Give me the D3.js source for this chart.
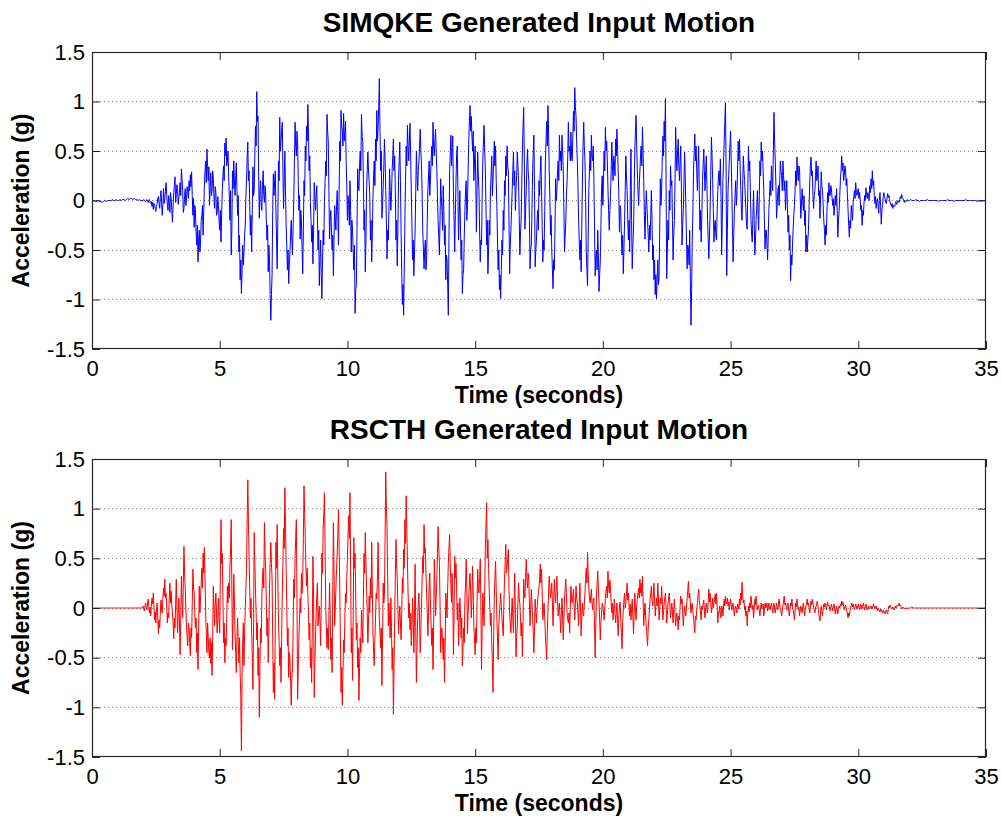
<!DOCTYPE html>
<html><head><meta charset="utf-8">
<script src="https://cdn.jsdelivr.net/npm/d3@7"></script>
<style>
body{margin:0;background:#fff;}
svg{display:block;font-family:"Liberation Sans",Arial,Helvetica,sans-serif;}
</style></head><body>
<svg id="chart" width="1001" height="818"></svg>
<script>
// ---------------- data ----------------
// Each row holds the samples of one second (row k covers k .. k+1 s).
const xTicks = [0, 5, 10, 15, 20, 25, 30, 35];
const yTicks = [-1.5, -1, -0.5, 0, 0.5, 1, 1.5];
const xLabel = "Time (seconds)";
const yLabel = "Acceleration (g)";
const simqkeTitle = "SIMQKE Generated Input Motion";
const rscthTitle = "RSCTH Generated Input Motion";

// SIMQKE acceleration (g)
const simqkeAcc = [
 [0.00,0.00,0.00,-0.01,0.00,0.00,-0.01,-0.01,-0.02,-0.01,0.00,-0.01,0.00,0.00,0.00,0.00,0.01,0.00,0.00,0.01],
 [0.00,0.00,0.01,0.00,0.01,0.01,0.00,0.01,0.02,0.01,0.02,0.02,0.01,0.02,0.01,0.01,0.00,0.01,0.00,0.00],
 [0.00,0.01,0.00,-0.01,-0.01,0.00,0.01,-0.01,-0.02,0.00,0.01,-0.02,-0.03,-0.01,-0.06,-0.02,-0.09,-0.03,-0.05,-0.08,-0.11,-0.06,-0.03,0.02,0.04,-0.03,-0.08,0.03,0.10,-0.02,-0.15,-0.04,0.12,-0.03,0.02,0.09,0.18,0.06,-0.04,-0.10],
 [0.05,-0.02,-0.12,0.08,0.02,-0.10,-0.22,-0.05,0.08,0.15,0.24,-0.02,0.06,0.16,0.12,-0.04,0.03,0.08,0.18,0.05,0.32,0.22,0.10,-0.12,-0.08,0.05,0.12,-0.05,0.02,0.14,0.08,0.02,0.20,0.10,0.26,0.14,0.29,0.05,-0.15,0.02],
 [-0.27,-0.05,-0.10,-0.32,-0.45,-0.25,-0.62,-0.40,-0.30,-0.52,-0.42,-0.20,-0.15,-0.05,-0.35,-0.10,0.15,0.30,0.40,0.18,0.52,0.35,0.20,0.34,-0.05,0.12,0.28,0.05,0.10,0.30,0.22,0.02,-0.08,0.14,0.08,-0.15,-0.12,0.04,-0.05,-0.20],
 [-0.30,-0.10,-0.42,-0.15,0.10,0.25,0.35,0.20,0.58,0.45,0.63,0.35,0.40,0.50,0.25,0.05,-0.20,0.10,-0.55,-0.30,0.30,0.12,0.40,0.20,0.05,0.25,0.38,0.10,-0.15,0.05,-0.52,-0.35,-0.80,-0.60,-0.94,-0.70,-0.45,-0.65,-0.52,-0.35],
 [-0.25,0.05,0.20,0.45,0.59,0.20,0.30,-0.05,-0.35,-0.15,-0.52,-0.10,0.34,0.05,0.10,0.45,0.75,0.55,1.10,0.80,0.85,0.25,-0.18,0.10,0.20,-0.05,-0.10,0.15,0.30,0.05,-0.02,0.15,0.05,-0.20,-0.40,-0.25,-0.72,-0.45,-0.60,-0.95],
 [-1.21,-0.95,-0.75,-0.10,0.27,0.05,0.20,0.30,-0.10,-0.40,-0.69,-0.20,0.40,0.20,0.84,0.50,0.60,0.70,0.79,0.30,-0.08,0.20,0.50,0.10,-0.25,-0.45,-0.70,-0.50,-0.84,-0.65,-0.53,-0.35,-0.20,-0.40,-0.55,-0.25,0.02,0.40,0.79,0.55],
 [0.45,0.70,0.59,0.20,-0.10,0.05,-0.39,-0.10,-0.20,-0.50,-0.74,-0.30,0.20,0.05,0.55,0.40,0.75,0.60,0.97,0.70,0.30,0.45,-0.02,-0.20,-0.42,-0.25,-0.64,-0.30,0.18,0.05,-0.10,0.05,0.15,-0.15,-0.50,-0.30,-0.86,-0.60,-0.40,-0.75],
 [-0.99,-0.60,-0.30,-0.45,-0.02,0.20,0.40,0.25,0.87,0.70,0.60,0.10,-0.39,-0.20,-0.10,-0.30,-0.50,-0.35,-0.76,-0.40,-0.05,-0.20,-0.30,-0.05,0.10,-0.15,-0.45,0.10,0.60,0.40,0.91,0.75,0.70,0.55,0.88,0.60,0.69,0.80,0.40,0.15],
 [-0.20,0.05,-0.05,-0.25,0.20,-0.10,-0.52,-0.20,-0.30,-0.50,-0.70,-0.45,-1.14,-0.90,-0.85,-0.30,0.32,0.15,0.10,0.35,0.50,0.30,0.87,0.65,0.60,0.20,-0.30,-0.10,-0.72,-0.40,0.10,0.30,0.49,0.30,0.20,0.05,-0.40,-0.20,-0.62,-0.35],
 [0.05,0.25,0.40,0.15,0.62,0.40,0.91,0.60,0.75,0.95,1.23,0.70,0.30,0.50,-0.18,-0.05,0.15,0.35,0.62,0.40,0.10,-0.20,-0.59,-0.30,-0.40,-0.10,0.32,0.10,-0.10,0.05,0.30,0.45,0.62,0.30,0.45,0.10,-0.40,-0.20,-0.66,-0.30],
 [0.20,0.40,0.59,0.20,-0.30,-0.70,-1.05,-0.85,-1.16,-0.70,-0.20,0.20,0.55,0.35,0.76,0.55,0.40,0.60,0.78,0.45,0.10,-0.25,-0.60,-0.40,-0.76,-0.55,-0.30,0.10,0.50,0.25,0.10,0.30,0.40,0.55,0.72,0.50,0.35,0.05,-0.30,-0.50],
 [-0.69,-0.50,-0.40,-0.70,-0.60,-0.20,0.10,0.25,0.40,0.05,0.20,0.40,0.55,0.35,0.79,0.55,0.45,0.60,0.72,0.50,0.30,0.05,-0.20,-0.35,-0.55,-0.20,0.22,0.05,-0.10,-0.30,0.15,-0.10,-0.45,-0.25,-0.80,-0.55,-0.60,-0.85,-1.16,-0.40],
 [0.30,0.45,0.66,0.35,0.50,0.65,0.10,-0.20,-0.52,-0.15,0.20,0.45,0.55,0.10,-0.40,-0.15,0.10,-0.25,-0.60,-0.40,-0.94,-0.75,-0.70,-0.35,-0.10,0.10,0.20,-0.20,-0.05,0.30,0.60,0.80,0.96,0.70,0.85,0.65,0.50,0.70,0.20,0.40],
 [0.55,0.20,-0.32,0.10,0.49,0.25,0.10,-0.30,-0.62,-0.40,-0.45,0.05,0.40,0.60,0.76,0.50,0.30,-0.10,-0.45,-0.20,-0.74,-0.50,-0.20,-0.35,0.10,0.25,0.45,0.05,0.20,0.40,0.60,0.35,0.55,0.20,-0.05,-0.40,-0.70,-0.50,-0.90,-0.75],
 [-0.99,-0.70,-0.40,-0.55,-0.10,-0.30,0.20,0.05,0.45,0.25,0.55,0.35,0.30,-0.20,-0.74,-0.45,-0.30,-0.10,0.10,0.30,0.49,0.15,0.30,-0.10,0.10,0.25,0.49,0.35,0.20,-0.15,-0.55,-0.35,-0.20,0.15,0.50,0.75,0.94,0.40,-0.29,-0.10],
 [0.10,0.35,0.52,0.30,0.20,-0.20,-0.69,-0.50,-0.45,-0.10,0.30,0.50,0.66,0.10,-0.67,-0.50,-0.40,-0.20,-0.10,-0.30,0.20,0.05,0.29,0.45,0.10,-0.25,-0.62,-0.40,-0.50,-0.10,0.40,0.60,0.80,0.55,0.96,0.70,0.30,0.05,-0.35,-0.15],
 [-0.50,-0.70,-0.89,-0.60,-0.70,-0.30,0.22,0.00,0.10,0.30,0.40,0.20,0.66,0.40,0.50,0.30,0.66,0.50,0.30,-0.10,-0.52,-0.35,-0.20,0.05,0.20,0.45,0.79,0.50,0.55,0.40,0.69,0.45,0.40,0.65,0.90,0.70,1.14,0.95,0.85,0.60],
 [0.40,0.15,-0.18,-0.40,-0.60,-0.40,-0.72,-0.25,0.20,0.55,0.79,0.55,0.40,0.05,-0.50,-0.70,-0.86,-0.40,0.10,0.30,0.50,0.30,0.66,0.45,0.40,0.55,0.20,-0.30,-0.76,-0.55,-0.50,-0.70,-0.30,-0.55,-0.92,-0.75,-0.60,-0.25,0.12,0.25],
 [-0.05,0.20,0.50,0.30,0.74,0.50,0.60,0.40,0.12,-0.10,-0.30,-0.10,0.05,0.30,0.59,0.35,0.20,0.45,0.40,0.25,0.62,0.45,0.72,0.55,0.30,0.05,-0.32,-0.05,-0.10,-0.35,-0.55,-0.35,-0.74,-0.50,-0.20,0.10,0.45,0.25,0.10,-0.20],
 [-0.40,-0.20,-0.52,0.10,0.52,-0.20,-0.69,-0.45,-0.30,0.05,0.50,0.70,0.86,0.55,0.30,0.10,-0.05,0.15,0.30,0.45,0.55,0.35,0.74,0.50,0.20,-0.15,-0.39,-0.10,0.10,-0.05,-0.20,-0.35,-0.52,-0.25,-0.40,-0.15,0.10,-0.20,-0.60,-0.45],
 [-0.80,-0.60,-0.95,-0.75,-0.99,-0.80,-0.60,-0.85,-0.79,-0.30,0.22,-0.05,0.10,0.40,0.65,0.45,0.80,0.60,1.03,0.20,-0.79,-0.50,-0.20,-0.40,0.10,-0.10,0.35,0.15,0.20,-0.20,-0.60,-0.35,-0.20,0.20,0.74,0.45,0.30,0.50,0.62,0.35],
 [0.20,0.40,0.55,0.10,-0.45,-0.25,-0.10,0.20,0.49,0.25,-0.08,-0.40,-0.69,-0.45,-0.50,-0.65,-0.30,-0.80,-1.26,-0.90,-0.40,-0.10,0.30,0.50,0.67,0.40,0.55,0.30,0.10,0.35,0.55,0.10,-0.30,-0.10,-0.42,-0.15,0.20,0.35,0.52,0.30],
 [0.10,0.30,0.45,0.15,-0.20,-0.40,-0.59,-0.35,-0.10,0.30,0.64,0.45,0.20,-0.10,-0.42,-0.25,-0.20,-0.35,-0.40,-0.10,0.10,0.25,0.30,0.15,0.42,0.05,-0.55,-0.20,0.20,0.40,0.60,0.80,0.99,0.30,-0.76,-0.30,0.10,0.25,0.40,0.55],
 [0.70,0.40,0.10,-0.30,-0.62,-0.35,-0.10,0.05,0.20,-0.05,0.05,0.35,0.60,0.40,0.62,0.35,0.10,-0.10,-0.20,0.15,0.45,0.30,0.20,0.05,-0.10,-0.25,-0.29,0.10,0.55,0.30,0.40,0.10,-0.20,-0.35,-0.42,-0.15,0.10,-0.20,-0.55,-0.40],
 [-0.20,-0.05,0.10,-0.10,-0.30,0.05,0.40,0.25,0.59,0.40,0.50,0.30,0.10,-0.20,-0.49,-0.30,-0.30,-0.45,-0.60,-0.35,-0.10,0.05,0.20,0.05,0.35,0.20,0.10,0.50,0.89,0.60,0.40,0.15,-0.18,-0.05,0.10,0.15,-0.05,0.20,0.40,0.30],
 [0.25,0.10,0.40,0.25,0.10,0.20,-0.10,0.05,0.20,-0.05,-0.32,-0.15,-0.50,-0.35,-0.81,-0.55,-0.65,-0.45,-0.29,-0.15,-0.05,0.10,0.30,0.15,0.44,0.30,0.20,0.35,0.32,0.05,-0.18,-0.05,0.12,0.00,-0.10,0.05,-0.25,-0.10,-0.52,-0.35],
 [-0.52,-0.40,-0.30,-0.05,0.20,0.35,0.44,0.25,0.30,0.05,-0.08,0.05,0.10,0.25,0.40,0.20,0.25,0.35,0.05,0.10,-0.18,0.05,0.29,0.15,0.10,-0.05,-0.20,-0.30,-0.45,-0.25,-0.35,-0.10,0.08,-0.02,0.18,0.05,0.05,0.15,0.12,0.02],
 [-0.05,0.02,-0.15,-0.05,0.05,-0.05,0.12,-0.10,-0.37,-0.20,-0.10,0.05,0.20,0.30,0.45,0.30,0.38,0.20,0.25,0.35,0.32,0.15,0.22,0.05,-0.10,-0.25,-0.37,-0.20,-0.28,-0.05,-0.12,-0.20,-0.02,0.04,0.10,0.02,0.18,0.08,0.05,0.10],
 [0.12,0.02,0.08,0.00,-0.10,-0.05,-0.25,-0.10,-0.15,-0.02,0.05,0.00,0.13,0.06,0.02,0.08,0.05,0.00,0.15,0.08,0.22,0.12,0.30,0.15,0.20,0.05,-0.03,0.04,-0.08,-0.02,0.02,-0.05,-0.13,0.00,0.08,-0.06,-0.24,-0.10,-0.05,0.03],
 [0.08,0.04,0.02,-0.02,-0.03,0.02,0.07,0.03,0.05,0.01,-0.02,-0.04,-0.06,-0.03,-0.08,-0.05,-0.05,-0.06,-0.03,-0.01,-0.04,-0.02,0.00,-0.01,-0.02,0.01,0.04,0.02,0.06,0.03,0.02,0.00,-0.02,0.00,-0.01,0.00,-0.01,0.01,0.00,0.00],
 [0.00,0.01,0.00,0.00,0.00,0.01,0.00,0.00,-0.01,0.00,0.00,0.00,0.00,0.00,0.01,0.00,0.00,0.00,0.00,0.00],
 [0.00,0.00,0.00,-0.01,0.00,0.00,0.00,0.00,0.00,0.00,0.01,0.00,0.00,0.00,0.00,-0.01,0.00,0.00,0.00,0.00],
 [0.00,0.00,0.00,0.00,0.01,0.00,0.00,0.00,0.00,0.00,0.00,0.00,0.00,-0.01,0.00,0.00,0.00,0.00,0.00,0.00],
 [0.00]
];

// RSCTH acceleration (g)
const rscthAcc = [
 [0.00,0.00,0.00,0.00,0.00,0.00,0.00,0.00,0.00,0.00,0.00,0.00,0.00,0.00,0.00,0.00,0.00,0.00,0.00,0.00],
 [0.00,0.00,0.00,0.00,0.00,0.00,0.00,0.00,0.00,0.00,0.00,0.00,0.00,0.00,0.00,0.00,0.00,0.00,0.00,0.00],
 [0.02,-0.01,-0.03,0.02,0.05,0.00,-0.02,0.04,0.09,0.02,-0.05,0.01,-0.08,0.03,0.10,0.04,0.15,0.02,-0.12,-0.04,-0.15,-0.02,0.05,-0.10,-0.26,-0.12,-0.20,-0.05,0.08,0.00,-0.05,0.10,0.20,0.12,0.29,0.10,0.15,0.02,-0.15,-0.05],
 [-0.10,0.10,0.25,0.05,0.17,0.02,-0.05,-0.15,-0.31,-0.10,-0.20,0.05,0.29,0.00,-0.25,-0.05,0.10,-0.15,-0.47,-0.10,0.32,0.05,-0.10,0.25,0.62,0.35,0.20,0.00,-0.18,-0.30,-0.38,-0.15,-0.20,-0.35,-0.48,-0.20,-0.30,0.05,0.39,0.20],
 [0.15,-0.05,-0.20,-0.10,-0.45,-0.25,-0.62,-0.20,0.22,-0.05,0.10,0.25,0.40,0.20,0.55,0.35,0.61,0.30,-0.05,-0.25,-0.45,-0.15,-0.30,-0.45,-0.50,-0.30,-0.56,-0.35,-0.68,-0.30,0.22,0.00,-0.18,0.05,0.15,-0.05,-0.25,-0.10,0.10,-0.10],
 [-0.25,0.30,0.89,0.45,0.55,0.10,-0.35,-0.15,-0.55,-0.30,-0.38,-0.10,0.22,0.05,0.25,0.10,0.40,0.60,0.89,0.20,-0.42,-0.10,0.34,0.10,-0.25,-0.45,-0.65,-0.30,-0.10,-0.35,-0.55,-0.30,-0.65,-0.90,-1.44,-0.70,-0.35,-0.15,-0.58,-0.25],
 [0.00,0.20,0.40,0.90,1.29,0.85,0.52,0.20,-0.10,0.10,-0.25,-0.50,-0.82,-0.20,0.76,0.45,0.20,-0.05,-0.32,-0.15,-0.68,-0.40,-1.10,-0.60,-0.20,-0.35,0.12,0.30,0.40,0.20,0.86,0.55,0.39,0.05,-0.28,-0.10,-0.55,-0.20,0.20,0.45],
 [0.66,0.45,0.30,-0.30,-0.85,-0.55,-0.92,-0.20,0.66,0.40,0.84,0.30,-0.12,-0.35,-0.58,-0.40,-0.75,-0.30,0.15,0.45,0.80,0.60,1.21,0.85,0.40,0.05,-0.38,-0.20,-0.70,-0.45,-0.50,-0.75,-0.98,-0.70,-0.60,-0.20,0.29,0.10,0.50,0.70],
 [0.89,0.10,-0.92,-0.60,-0.32,-0.10,0.10,-0.05,0.35,0.15,0.30,0.70,1.23,0.95,0.69,0.40,0.22,0.40,0.15,-0.05,-0.32,-0.15,-0.60,-0.40,-0.75,-0.20,0.52,0.10,-0.90,-0.55,-0.30,-0.05,0.12,0.25,-0.18,-0.05,0.02,-0.15,-0.38,0.05],
 [0.55,0.35,0.80,0.95,1.16,0.60,0.02,-0.20,-0.40,-0.20,-0.42,-0.10,0.25,-0.05,-0.52,-0.30,-0.65,0.10,0.86,0.40,-0.18,0.00,0.20,0.40,0.55,0.75,0.99,0.60,0.18,-0.30,-0.85,-0.60,-0.98,-0.65,-0.32,-0.45,-0.10,0.15,0.05,0.30],
 [0.50,0.75,0.93,0.70,1.16,0.40,-0.45,-0.20,-0.73,-0.10,0.71,0.40,0.55,0.10,-0.32,-0.15,-0.60,-0.40,-0.93,-0.60,-0.30,-0.45,-0.02,-0.20,-0.35,0.10,0.55,0.35,0.76,0.45,0.20,-0.05,-0.35,-0.15,0.12,-0.05,0.30,0.10,0.66,0.20],
 [-0.25,-0.45,-0.58,-0.30,-0.10,0.15,0.09,0.30,0.66,0.20,-0.12,-0.25,-0.40,-0.20,-0.78,-0.30,0.25,0.05,0.15,0.70,1.37,1.00,0.82,0.30,-0.18,0.05,-0.12,-0.30,0.10,-0.20,-0.62,-0.40,-1.07,-0.60,-0.12,0.30,0.69,0.45,0.30,0.00],
 [-0.26,-0.10,0.02,-0.15,-0.32,-0.05,0.30,0.15,0.59,0.40,0.89,0.65,1.13,0.80,0.45,0.15,-0.10,0.05,-0.22,-0.05,-0.38,-0.20,0.10,-0.10,-0.45,-0.10,0.44,-0.20,-0.75,-0.40,-0.12,0.05,0.15,-0.15,-0.45,-0.25,0.05,0.30,0.52,0.35],
 [0.84,0.55,0.60,0.35,0.15,-0.05,-0.28,-0.05,0.25,0.35,0.05,-0.15,-0.38,-0.20,-0.62,-0.20,0.49,0.25,-0.08,0.10,0.30,0.55,0.82,0.60,0.45,0.05,-0.45,-0.25,-0.20,-0.35,-0.52,-0.30,-0.75,-0.40,0.15,0.05,-0.10,0.20,0.45,0.60],
 [0.74,0.45,0.22,0.05,0.35,0.10,-0.47,-0.10,0.52,0.30,0.45,0.20,-0.12,0.05,-0.38,-0.15,0.10,-0.05,-0.30,-0.10,-0.58,-0.40,-0.20,-0.35,0.09,0.25,0.49,0.20,-0.26,-0.05,0.10,0.25,0.35,0.15,-0.10,0.10,0.42,0.15,-0.20,-0.30],
 [-0.47,-0.20,-0.35,0.05,0.39,0.20,0.15,0.30,0.49,0.05,-0.62,-0.20,0.15,0.00,-0.18,0.20,0.60,0.85,1.06,0.50,0.69,0.40,0.19,0.00,-0.18,-0.05,-0.35,-0.55,-0.85,-0.30,0.12,0.30,0.47,0.20,-0.10,-0.30,-0.52,-0.20,-0.05,0.05],
 [0.15,0.02,-0.10,-0.20,-0.28,0.05,0.29,0.45,0.64,0.35,0.40,0.50,0.59,0.20,-0.05,-0.15,-0.25,-0.05,0.10,-0.10,-0.25,0.05,0.35,-0.05,-0.49,-0.30,-0.18,0.05,0.25,0.10,0.05,-0.10,-0.28,-0.15,-0.49,-0.15,0.29,0.15,0.10,0.30],
 [0.49,0.30,0.20,0.35,0.29,0.05,-0.18,0.00,0.19,0.05,-0.10,-0.25,-0.45,-0.20,0.09,-0.05,-0.15,0.00,0.09,0.15,0.20,0.30,0.44,0.25,0.39,0.15,-0.12,-0.02,0.05,-0.10,-0.28,-0.40,-0.52,-0.25,-0.02,0.15,0.32,0.20,0.10,0.15],
 [0.25,0.05,-0.18,0.05,0.29,0.15,0.05,0.20,0.32,0.10,-0.08,0.00,0.05,-0.10,-0.25,-0.05,0.10,-0.10,-0.32,-0.10,0.09,0.20,0.29,0.10,-0.05,-0.12,-0.15,-0.05,-0.25,0.00,0.22,0.10,0.05,0.12,0.19,0.02,-0.12,0.05,0.22,0.10],
 [0.05,-0.05,-0.18,0.05,0.25,0.00,-0.28,-0.10,0.05,-0.05,-0.08,0.05,0.15,0.30,0.40,0.25,0.56,0.35,0.22,0.10,0.05,0.12,0.19,0.05,-0.02,0.08,0.10,-0.20,-0.50,-0.15,0.12,0.25,0.37,0.20,0.05,-0.12,-0.32,-0.15,-0.05,0.05],
 [0.02,-0.05,-0.12,0.00,0.10,0.18,0.22,0.10,0.37,0.22,0.15,0.28,0.20,0.05,-0.05,0.05,-0.12,-0.02,0.09,-0.05,-0.15,-0.05,0.05,-0.12,-0.28,-0.10,0.02,0.06,-0.10,-0.25,-0.41,-0.15,-0.02,0.08,0.15,0.00,0.05,0.15,0.25,0.08],
 [0.15,0.02,-0.08,0.04,-0.12,-0.02,0.09,-0.08,-0.26,-0.05,0.15,0.00,-0.12,0.02,0.09,0.15,0.20,0.10,0.29,0.15,0.25,0.12,0.32,0.10,-0.18,-0.05,0.05,-0.08,-0.18,-0.28,-0.38,-0.20,-0.12,0.00,0.09,0.15,0.22,0.08,0.02,0.12],
 [0.25,0.08,-0.08,0.02,0.10,0.02,0.25,0.10,-0.12,-0.02,0.10,0.04,0.22,0.08,-0.12,-0.04,0.05,0.10,0.15,0.02,-0.15,-0.06,0.05,0.10,0.15,0.02,-0.10,-0.02,0.05,-0.05,-0.15,0.00,0.09,-0.05,-0.18,-0.08,-0.05,-0.12,-0.22,-0.08],
 [-0.12,0.02,0.12,0.04,0.09,-0.05,-0.18,-0.06,0.02,-0.04,-0.08,0.02,0.09,0.18,0.27,0.10,0.15,0.05,-0.05,0.02,0.05,-0.04,-0.10,-0.18,-0.25,-0.08,-0.12,-0.03,0.05,0.12,0.19,0.08,0.02,-0.05,-0.12,0.02,-0.02,0.04,0.08,-0.03],
 [-0.10,0.00,0.05,-0.02,-0.05,0.08,0.19,0.06,0.15,0.04,-0.05,0.02,0.10,0.00,0.05,0.10,0.14,0.04,0.15,0.02,-0.15,-0.04,-0.05,0.02,-0.05,-0.10,0.02,0.00,-0.08,0.02,0.09,0.02,0.12,0.04,0.05,0.10,0.02,0.06,-0.02,0.04],
 [0.09,0.02,-0.02,0.04,0.05,-0.02,-0.08,0.00,0.02,-0.03,-0.05,0.04,0.02,-0.01,0.09,0.03,0.15,0.08,0.26,0.12,0.05,0.08,-0.02,0.02,-0.08,-0.03,-0.18,-0.06,0.02,-0.04,0.05,0.00,0.12,0.05,-0.02,0.03,-0.10,-0.02,0.09,0.03],
 [0.12,0.04,-0.02,0.03,0.02,-0.03,-0.08,0.00,0.05,-0.01,0.02,0.04,-0.08,-0.02,0.05,0.00,0.02,0.05,-0.03,0.01,0.05,0.00,-0.02,0.02,0.05,0.00,-0.05,0.01,0.05,-0.01,-0.05,0.00,0.05,0.01,-0.02,0.04,0.09,0.03,-0.02,-0.04],
 [-0.08,-0.02,0.02,0.07,0.12,0.03,0.05,0.01,-0.02,0.03,0.05,-0.02,-0.08,-0.01,0.05,0.02,0.09,0.02,-0.02,-0.06,-0.12,-0.03,0.05,0.01,0.09,0.03,-0.02,0.01,-0.08,-0.02,0.02,-0.02,-0.05,0.01,0.05,-0.02,-0.08,-0.02,0.02,0.05],
 [0.09,0.03,0.05,0.00,-0.05,0.01,0.07,0.03,0.09,0.04,0.02,-0.02,-0.05,0.00,0.02,0.05,0.07,0.01,-0.05,-0.09,-0.13,-0.04,0.02,-0.03,-0.08,-0.01,0.04,0.01,0.05,0.02,-0.02,0.02,0.06,0.02,0.03,0.00,-0.03,0.01,0.04,0.00],
 [-0.03,0.01,0.04,-0.01,-0.06,-0.02,0.02,-0.02,-0.06,-0.01,0.02,0.00,0.04,0.02,0.07,0.03,0.06,0.02,-0.02,0.01,0.03,0.00,-0.03,-0.06,-0.10,-0.05,-0.08,-0.03,0.00,0.03,0.05,0.01,0.04,0.01,-0.02,0.01,0.04,0.01,-0.01,0.02],
 [0.04,0.01,-0.02,0.01,0.04,0.01,-0.01,0.02,0.05,0.01,-0.02,0.01,0.04,0.00,-0.02,0.00,0.02,0.00,-0.01,0.01,0.02,-0.01,0.00,0.02,0.04,0.01,-0.01,0.01,0.02,-0.01,-0.03,0.00,-0.01,-0.03,-0.04,-0.01,-0.02,-0.04,-0.05,-0.02],
 [-0.03,-0.05,-0.06,-0.03,-0.02,-0.04,-0.06,-0.01,0.02,0.00,0.03,0.01,-0.01,0.00,0.01,-0.01,-0.02,0.00,0.02,0.00,0.01,0.03,0.02,0.03,0.05,0.02,0.03,0.01,-0.01,0.00,0.01,0.00,-0.01,0.00,0.00,0.00,-0.01,0.00,0.00,0.00],
 [0.00,0.00,0.01,0.00,0.00,0.00,0.00,0.00,0.00,0.00,0.00,0.00,0.00,0.00,0.00,0.00,0.00,0.00,0.00,0.00],
 [0.00,0.00,0.00,0.00,0.00,0.00,0.00,0.00,0.00,0.00,0.00,0.00,0.00,0.00,0.00,0.00,0.00,0.00,0.00,0.00],
 [0.00,0.00,0.00,0.00,0.00,0.00,0.00,0.00,0.00,0.00,0.00,0.00,0.00,0.00,0.00,0.00,0.00,0.00,0.00,0.00],
 [0.00]
];

// ---------------- drawing ----------------
const svg = d3.select("#chart");
svg.append("rect").attr("width", 1001).attr("height", 818).attr("fill", "#fff");

const left = 92, right = 986;
const panels = [
  { title: simqkeTitle, rows: simqkeAcc, color: "#0000ff", top: 52, bottom: 349, titleY: 32 },
  { title: rscthTitle,  rows: rscthAcc,  color: "#ff0000", top: 459, bottom: 757, titleY: 439 }
];
const fmt = d => String(d);
// sample k of row s lies at time s + k / (samples in that row)
const toPoints = rows => rows.flatMap((row, s) => row.map((v, k) => ({ t: s + k / row.length, v })));

panels.forEach((p, pi) => {
  const x = d3.scaleLinear().domain([0, 35]).range([left, right]);
  const y = d3.scaleLinear().domain([-1.5, 1.5]).range([p.bottom, p.top]);
  const g = svg.append("g");

  // dotted horizontal grid
  g.append("g").selectAll("line")
    .data(yTicks.filter(v => v > -1.5 && v < 1.5))
    .join("line")
    .attr("x1", left).attr("x2", right)
    .attr("y1", d => y(d)).attr("y2", d => y(d))
    .attr("stroke", "#8a8a8a").attr("stroke-width", 1)
    .attr("stroke-dasharray", "1,3")
    .attr("shape-rendering", "crispEdges");

  // data line
  const clipId = "clip" + pi;
  svg.append("clipPath").attr("id", clipId).append("rect")
    .attr("x", left).attr("y", p.top).attr("width", right - left).attr("height", p.bottom - p.top);
  g.append("path")
    .datum(toPoints(p.rows))
    .attr("clip-path", `url(#${clipId})`)
    .attr("fill", "none")
    .attr("stroke", p.color)
    .attr("stroke-width", 1)
    .attr("d", d3.line().x(d => x(d.t)).y(d => y(d.v)));

  // axes with inward ticks on all four sides
  const tickStroke = "#262626";
  const styleAxis = sel => {
    sel.select(".domain").remove();
    sel.selectAll(".tick line").attr("stroke", tickStroke);
    sel.selectAll(".tick text").attr("fill", "#000")
      .style("font-size", "22px").style("font-family", '"Liberation Sans",Arial,sans-serif');
  };
  g.append("g").attr("transform", `translate(${left},0)`)
    .call(d3.axisLeft(y).tickValues(yTicks).tickSize(-8).tickPadding(7).tickFormat(fmt))
    .call(styleAxis);
  g.append("g").attr("transform", `translate(${right},0)`)
    .call(d3.axisRight(y).tickValues(yTicks).tickSize(-8).tickFormat(""))
    .call(styleAxis);
  g.append("g").attr("transform", `translate(0,${p.bottom})`)
    .call(d3.axisBottom(x).tickValues(xTicks).tickSize(-8).tickPadding(11).tickFormat(fmt))
    .call(styleAxis);
  g.append("g").attr("transform", `translate(0,${p.top})`)
    .call(d3.axisTop(x).tickValues(xTicks).tickSize(-8).tickFormat(""))
    .call(styleAxis);

  // box
  g.append("rect")
    .attr("x", left + 0.5).attr("y", p.top + 0.5)
    .attr("width", right - left - 1).attr("height", p.bottom - p.top - 1)
    .attr("fill", "none").attr("stroke", tickStroke).attr("stroke-width", 1.2);

  // title
  svg.append("text")
    .attr("x", (left + right) / 2).attr("y", p.titleY)
    .attr("text-anchor", "middle")
    .style("font-size", "28px").style("font-weight", "bold")
    .text(p.title);

  // x label
  svg.append("text")
    .attr("x", (left + right) / 2).attr("y", p.bottom + 54)
    .attr("text-anchor", "middle")
    .style("font-size", "23px").style("font-weight", "bold")
    .text(xLabel);

  // y label
  svg.append("text")
    .attr("transform", `translate(29,${(p.top + p.bottom) / 2}) rotate(-90)`)
    .attr("text-anchor", "middle")
    .style("font-size", "23px").style("font-weight", "bold")
    .text(yLabel);
});
</script>
</body></html>
